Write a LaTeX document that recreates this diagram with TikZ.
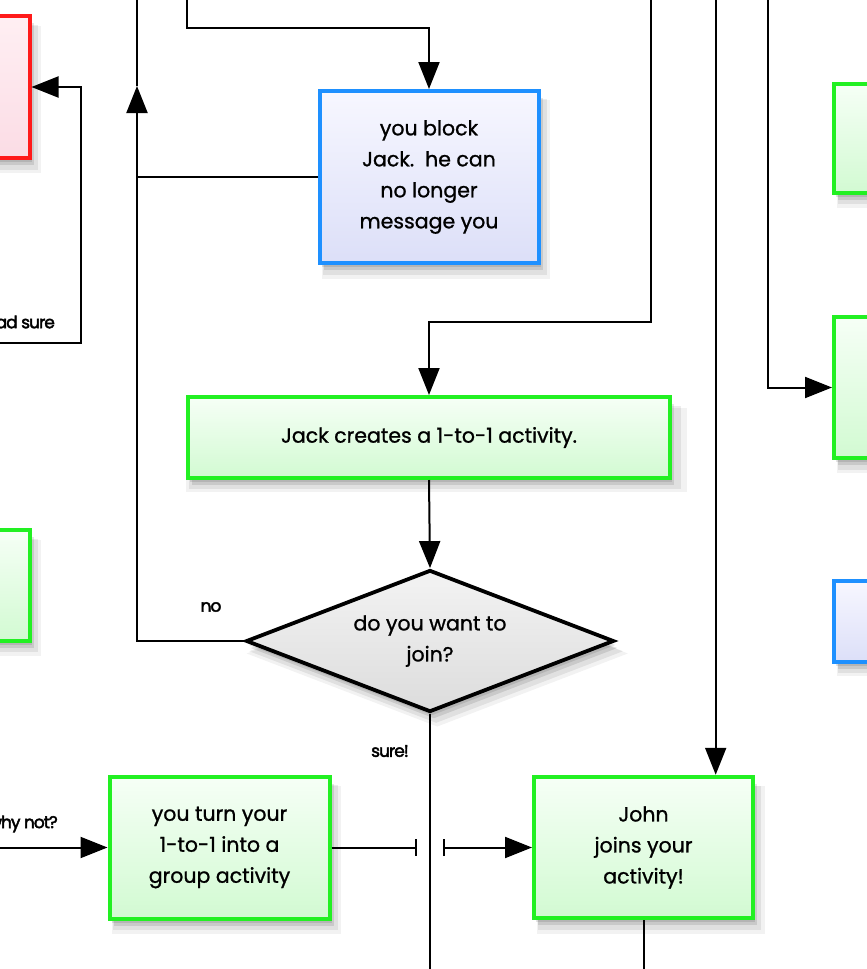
\documentclass[tikz,border=0pt]{standalone}
\usepackage{fontspec}
\setmainfont{Poppins}[FakeBold=1]
\newfontfamily\lblfont[LetterSpace=-6,FakeBold=2.5]{Poppins}
\usetikzlibrary{arrows.meta,shapes.geometric,shadows}
\definecolor{grn}{HTML}{22F022}
\definecolor{grntop}{HTML}{F6FFF6}
\definecolor{grnbot}{HTML}{D2FAD2}
\definecolor{blu}{HTML}{1E90FF}
\definecolor{blutop}{HTML}{F7F7FF}
\definecolor{blubot}{HTML}{DCDFF8}
\definecolor{rd}{HTML}{FF1A1A}
\definecolor{rdtop}{HTML}{FFEFF3}
\definecolor{rdbot}{HTML}{FBDCE5}
\definecolor{dtop}{HTML}{F3F3F3}
\definecolor{dbot}{HTML}{DCDCDC}
\tikzset{
  softshadow/.style={
    drop shadow={shadow xshift=2pt, shadow yshift=-4pt, opacity=0.10, fill=black},
    drop shadow={shadow xshift=4pt, shadow yshift=-7pt, opacity=0.10, fill=black},
    drop shadow={shadow xshift=6pt, shadow yshift=-10pt, shadow scale=1.02, opacity=0.07, fill=black},
    drop shadow={shadow xshift=7pt, shadow yshift=-12pt, shadow scale=1.04, opacity=0.05, fill=black}},
  box/.style={rectangle, line width=4pt, inner sep=0pt, align=center,
    font=\fontsize{20.5}{31}\selectfont, softshadow},
  greenbox/.style={box, draw=grn, top color=grntop, bottom color=grnbot},
  bluebox/.style={box, draw=blu, top color=blutop, bottom color=blubot},
  redbox/.style={box, draw=rd, top color=rdtop, bottom color=rdbot},
  decision/.style={diamond, aspect=2.6, line width=3.8pt, draw=black, inner sep=0pt,
    align=center, top color=dtop, bottom color=dbot,
    font=\fontsize{20.5}{31}\selectfont, softshadow},
  link/.style={line width=2pt, draw=black},
  arr/.style={link, -{Triangle[length=27pt,width=21pt]}},
  lbl/.style={font=\lblfont\fontsize{17}{17}\selectfont, inner sep=0pt},
}
\begin{document}
\begin{tikzpicture}[x=1pt,y=-1pt]
\useasboundingbox (0,0) rectangle (867,969);
\fill[white] (0,0) rectangle (867,969);
\clip (0,0) rectangle (867,969);

% off-canvas partial boxes
\node[redbox, minimum width=199.5pt, minimum height=142pt] (red) at (-70.25,87) {};
\node[greenbox, minimum width=199.5pt, minimum height=111pt] (lgreen) at (-70.25,585.5) {};
\node[greenbox, minimum width=200pt, minimum height=109pt] (rg1) at (934,138.5) {};
\node[greenbox, minimum width=200pt, minimum height=141pt] (rg2) at (934,387.5) {};
\node[bluebox, minimum width=200pt, minimum height=81.5pt] (rblue) at (933.5,621.25) {};

% main nodes
\node[bluebox, minimum width=219pt, minimum height=172pt] (block) at (429,177)
  {you block\\Jack.\ \ he can\\no longer\\message you};
\node[greenbox, minimum width=482pt, minimum height=81pt] (create) at (429,437.5)
  {Jack creates a 1-to-1 activity.};
\node[decision, minimum width=368pt, minimum height=142pt] (join) at (430,641)
  {do you want to\\join?};
\node[greenbox, minimum width=220pt, minimum height=142pt] (turn) at (219.5,847.5)
  {you turn your\\1-to-1 into a\\group activity};
\node[greenbox, minimum width=219pt, minimum height=141.5pt] (john) at (643.5,847.5)
  {John\\joins your\\activity!};

% free ends
\coordinate (a0) at (187,0);
\coordinate (b0) at (137,0);
\coordinate (c0) at (651,0);
\coordinate (d0) at (715.7,0);
\coordinate (e0) at (768.3,0);
\coordinate (f0) at (0,343);
\coordinate (g0) at (0,847.5);
\coordinate (h0) at (430,969);
\coordinate (i0) at (643.5,969);
\coordinate (uptip) at (137,86);
\coordinate (hopL) at (416.7,847.5);
\coordinate (hopR) at (442.7,847.5);

% connectors
\draw[arr] (a0) -- (187,27.5) -- (429,27.5) -- (block.north);
\draw[link] (uptip) -- (b0);
\draw[arr] (join.west) -- (137,641) -- (uptip);
\draw[link] (block.west) -- (137,177);
\draw[arr] (c0) -- (651,322) -- (429,322) -- (create.north);
\draw[arr] (create.south) -- (join.north);
\draw[link] (join.south) -- (h0);
\draw[arr] (f0) -- (80.5,343) -- (80.5,87) -- (red.east);
\draw[arr] (g0) -- (turn.west);
\draw[link, -{Bar[width=17pt]}] (turn.east) -- (hopL);
\draw[link, {Bar[width=17pt]}-{Triangle[length=27pt,width=21pt]}] (hopR) -- (john.west);
\draw[arr] (d0) -- (d0 |- john.north);
\draw[link] (john.south) -- (i0);
\draw[arr] (e0) -- (768.3,387.5) -- (rg2.west);

% labels
\node[lbl] (nolbl) at (211,607) {no};
\node[lbl] (surelbl) at (390,751) {sure!};
\node[lbl, anchor=east] (whylbl) at (58,824) {why not?};
\node[lbl, anchor=east] (notsurelbl) at (55,322) {ad sure};
\end{tikzpicture}
\end{document}
